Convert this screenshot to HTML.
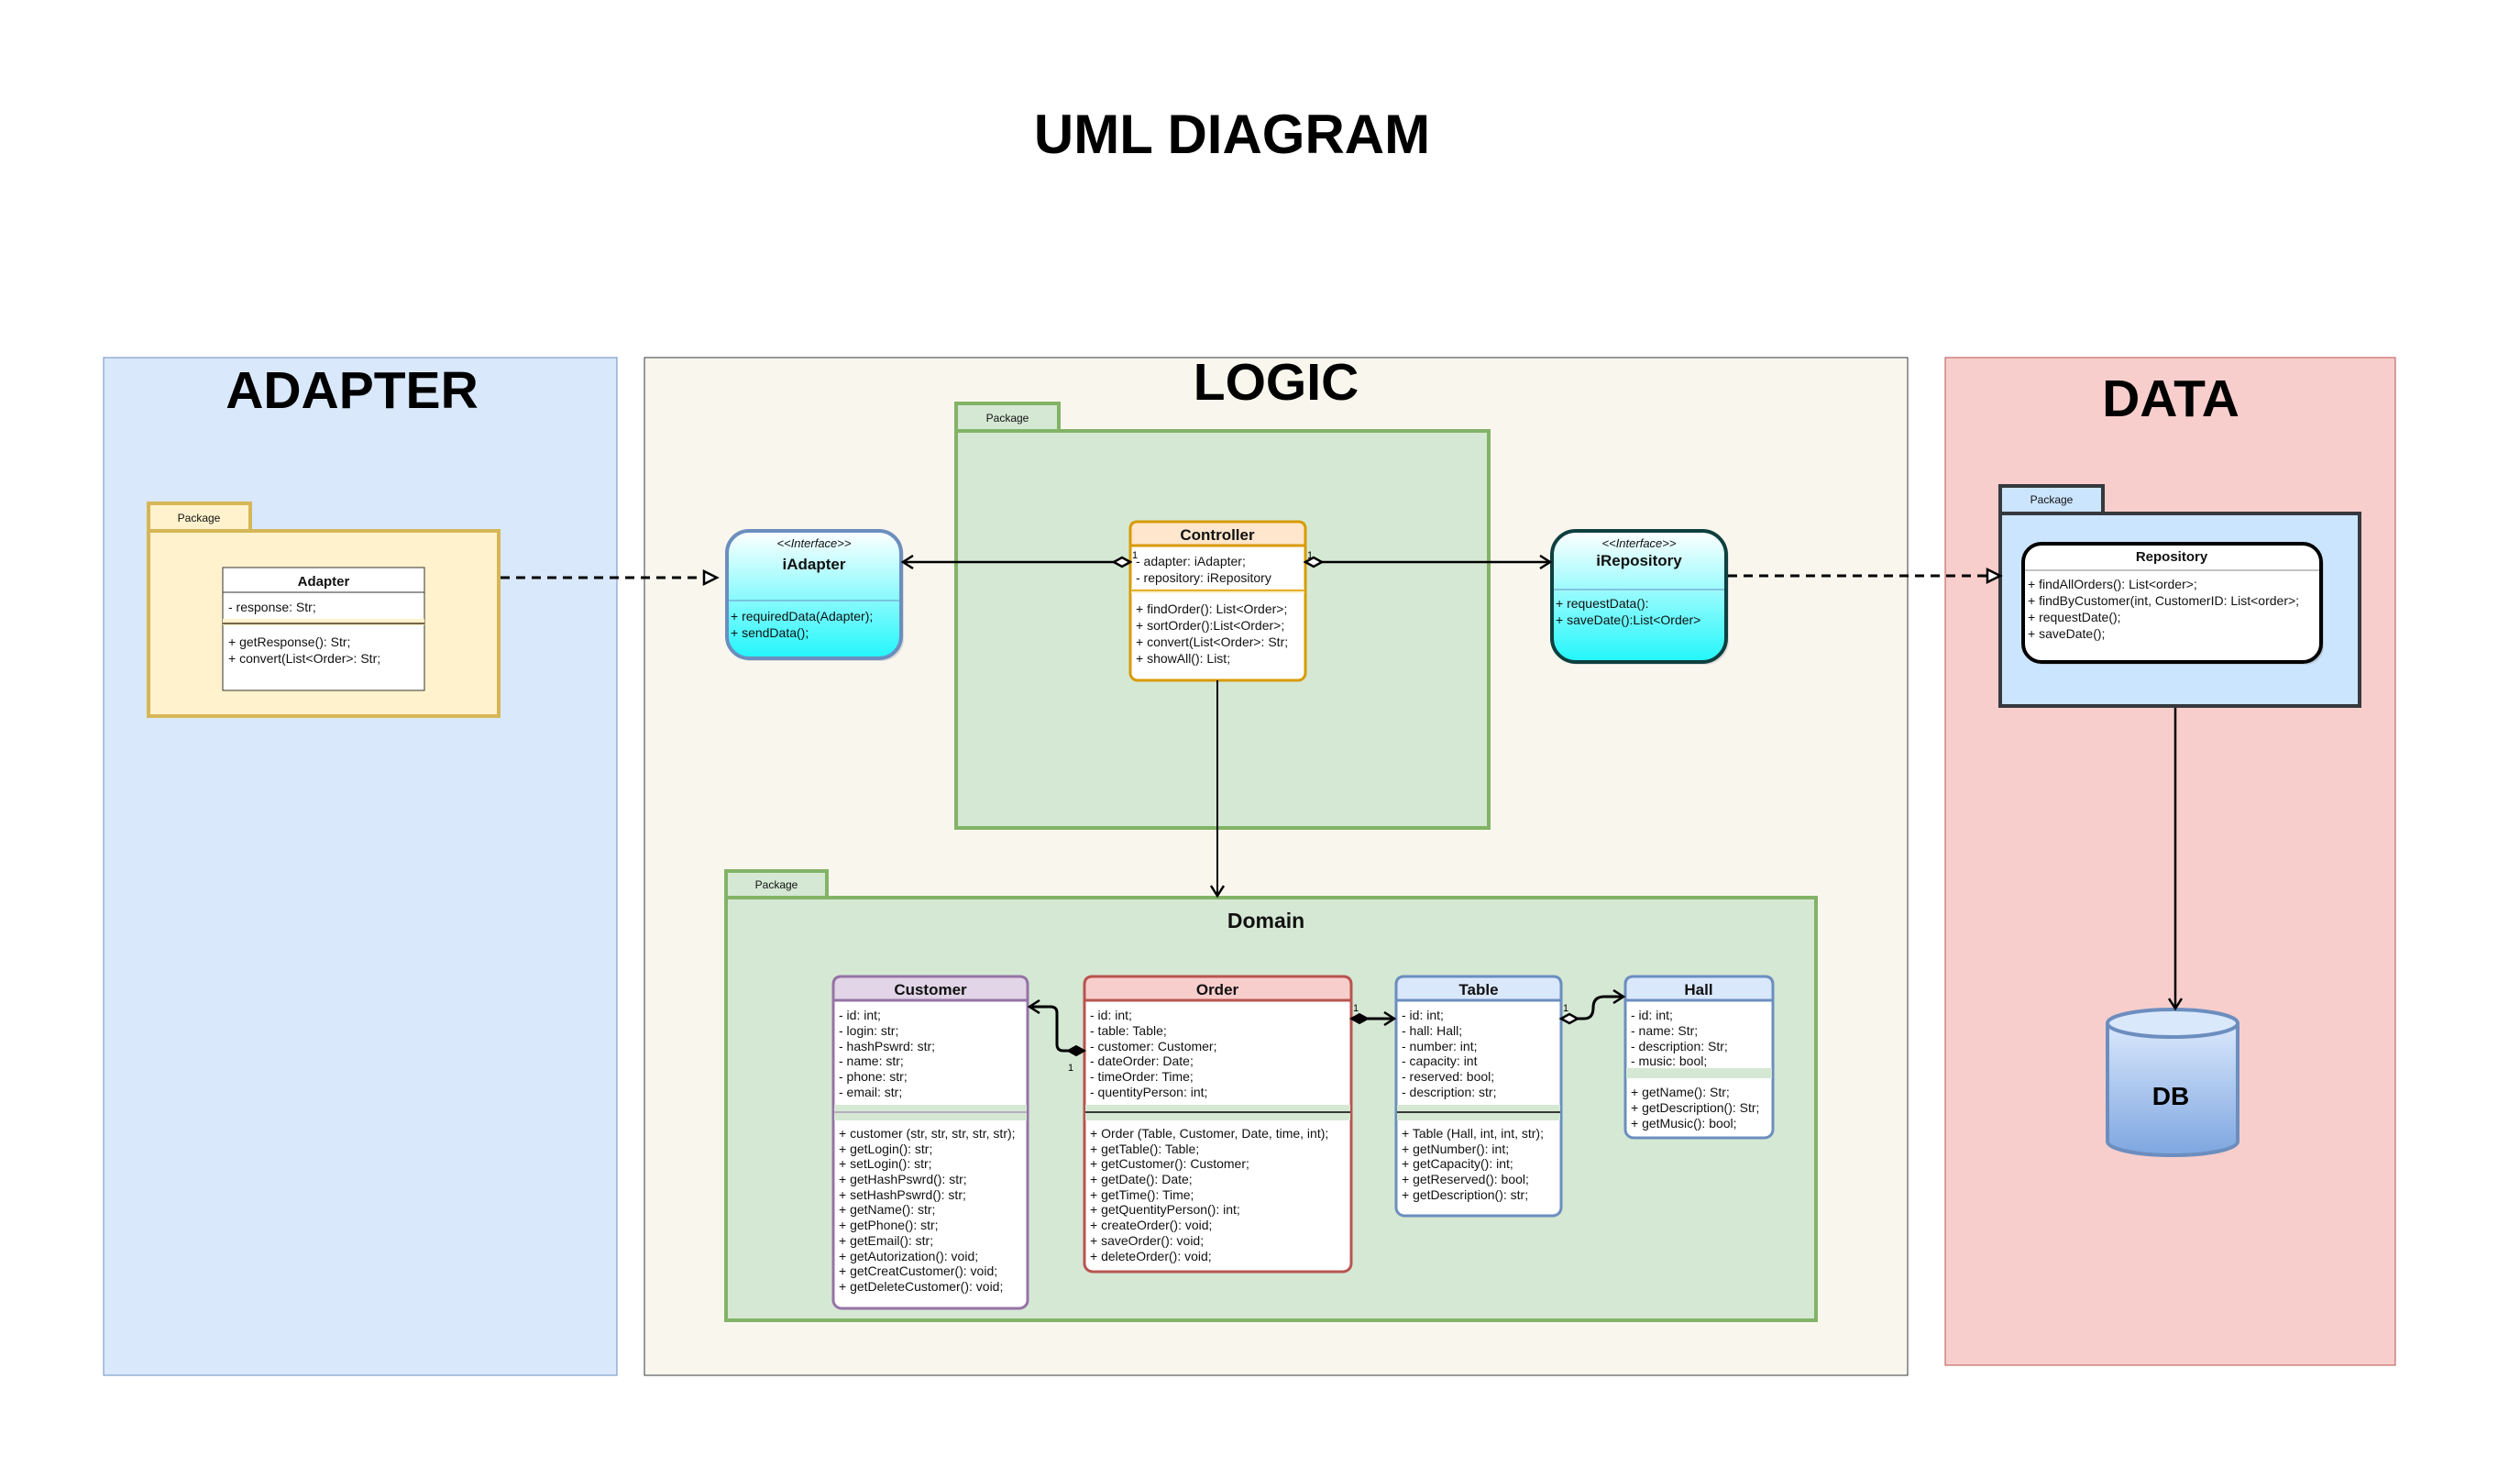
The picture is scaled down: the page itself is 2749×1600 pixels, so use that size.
<!DOCTYPE html>
<html><head><meta charset="utf-8"><style>
html,body{margin:0;padding:0;background:#fff;}
svg{display:block;font-family:"Liberation Sans",Arial,sans-serif;}
.t{font-size:14px;fill:#111;}
.h{font-size:17px;font-weight:bold;fill:#111;text-anchor:middle;}
.pk{font-size:12px;fill:#111;text-anchor:middle;}
</style></head><body>
<svg width="2749" height="1600" viewBox="0 0 2749 1600" xmlns="http://www.w3.org/2000/svg">
<defs>
<linearGradient id="cy" x1="0" y1="0" x2="0" y2="1"><stop offset="0" stop-color="#ffffff"/><stop offset="1" stop-color="#22f6fb"/></linearGradient>
<linearGradient id="db" x1="0" y1="0" x2="0" y2="1"><stop offset="0" stop-color="#dae8fc"/><stop offset="1" stop-color="#7ea6e0"/></linearGradient>
<marker id="open" markerWidth="16" markerHeight="16" refX="13" refY="8" orient="auto" markerUnits="userSpaceOnUse"><path d="M2,1 L13,8 L2,15" fill="none" stroke="#000" stroke-width="2.5"/></marker>
<marker id="tri" markerWidth="20" markerHeight="20" refX="17" refY="10" orient="auto" markerUnits="userSpaceOnUse"><path d="M3,3 L17,10 L3,17 Z" fill="#fff" stroke="#000" stroke-width="2.5"/></marker>
<marker id="dmo" markerWidth="24" markerHeight="14" refX="2" refY="7" orient="auto" markerUnits="userSpaceOnUse"><path d="M2,7 L11,2 L20,7 L11,12 Z" fill="#fff" stroke="#000" stroke-width="2.5"/></marker>
<marker id="dmf" markerWidth="24" markerHeight="14" refX="2" refY="7" orient="auto" markerUnits="userSpaceOnUse"><path d="M2,7 L11,2 L20,7 L11,12 Z" fill="#000" stroke="#000" stroke-width="2"/></marker>
</defs>
<rect width="2749" height="1600" fill="#fff"/>
<text x="1344" y="167" font-size="60" font-weight="bold" text-anchor="middle">UML DIAGRAM</text>

<rect x="113" y="390" width="560" height="1110" fill="#dae8fc" stroke="#6c8ebf" stroke-width="1"/>
<rect x="703" y="390" width="1378" height="1110" fill="#f9f7ed" stroke="#36393d" stroke-width="1"/>
<rect x="2122" y="390" width="491" height="1099" fill="#f8cecc" stroke="#b85450" stroke-width="1"/>
<text x="384" y="445" font-size="57" font-weight="bold" text-anchor="middle">ADAPTER</text>
<text x="1392" y="436" font-size="57" font-weight="bold" text-anchor="middle">LOGIC</text>
<text x="2368" y="454" font-size="57" font-weight="bold" text-anchor="middle">DATA</text>

<rect x="162" y="549" width="111" height="30" fill="#fff2cc" stroke="#d6b656" stroke-width="4"/>
<text class="pk" x="217" y="569">Package</text>
<rect x="162" y="579" width="382" height="202" fill="#fff2cc" stroke="#d6b656" stroke-width="4"/>
<rect x="243" y="619" width="220" height="134" fill="#fff" stroke="#333" stroke-width="1"/>
<line x1="243" y1="646" x2="463" y2="646" stroke="#333"/>
<rect x="243" y="675" width="220" height="7" fill="#fff2cc"/>
<line x1="243" y1="680" x2="463" y2="680" stroke="#776644" stroke-width="2"/>
<text class="h" x="353" y="639" style="font-size:15px">Adapter</text>
<text class="t" x="249" y="667">- response: Str;</text>
<text class="t" x="249" y="705">+ getResponse(): Str;</text>
<text class="t" x="249" y="723">+ convert(List&lt;Order&gt;: Str;</text>

<rect x="796" y="582" width="190" height="139" rx="24" fill="#aab" opacity="0.35"/>
<rect x="793" y="579" width="190" height="139" rx="24" fill="url(#cy)" stroke="#6c8ebf" stroke-width="4"/>
<line x1="795" y1="655" x2="981" y2="655" stroke="#6c8ebf" stroke-width="1"/>
<text class="t" x="888" y="597" text-anchor="middle" font-style="italic" style="font-size:13px">&lt;&lt;Interface&gt;&gt;</text>
<text class="h" x="888" y="621">iAdapter</text>
<text class="t" x="797" y="677">+ requiredData(Adapter);</text>
<text class="t" x="797" y="695">+ sendData();</text>

<rect x="1043" y="440" width="112" height="30" fill="#d5e8d4" stroke="#82b366" stroke-width="4"/>
<text class="pk" x="1099" y="460">Package</text>
<rect x="1043" y="470" width="581" height="433" fill="#d5e8d4" stroke="#82b366" stroke-width="4"/>

<rect x="1233" y="569" width="191" height="173" rx="8" fill="#fff" stroke="#d79b00" stroke-width="3"/>
<path d="M1233,595 L1233,577 Q1233,569 1241,569 L1416,569 Q1424,569 1424,577 L1424,595 Z" fill="#ffe6cc" stroke="#d79b00" stroke-width="3"/>
<rect x="1234" y="642" width="189" height="5" fill="#fff2cc"/>
<line x1="1234" y1="644" x2="1423" y2="644" stroke="#d79b00" stroke-width="1.5"/>
<text class="h" x="1328" y="589">Controller</text>
<text class="t" x="1239" y="617">- adapter: iAdapter;</text>
<text class="t" x="1239" y="635">- repository: iRepository</text>
<text class="t" x="1239" y="669">+ findOrder(): List&lt;Order&gt;;</text>
<text class="t" x="1239" y="687">+ sortOrder():List&lt;Order&gt;;</text>
<text class="t" x="1239" y="705">+ convert(List&lt;Order&gt;: Str;</text>
<text class="t" x="1239" y="723">+ showAll(): List;</text>
<text x="1235" y="609" font-size="11">1</text>
<text x="1426" y="609" font-size="11">1</text>

<rect x="1696" y="582" width="190" height="143" rx="26" fill="#aab" opacity="0.35"/>
<rect x="1693" y="579" width="190" height="143" rx="26" fill="url(#cy)" stroke="#0f3f3f" stroke-width="4"/>
<line x1="1695" y1="643" x2="1881" y2="643" stroke="#6c8ebf" stroke-width="1"/>
<text class="t" x="1788" y="597" text-anchor="middle" font-style="italic" style="font-size:13px">&lt;&lt;Interface&gt;&gt;</text>
<text class="h" x="1788" y="617">iRepository</text>
<text class="t" x="1697" y="663">+ requestData():</text>
<text class="t" x="1697" y="681">+ saveDate():List&lt;Order&gt;</text>

<rect x="792" y="950" width="110" height="29" fill="#d5e8d4" stroke="#82b366" stroke-width="4"/>
<text class="pk" x="847" y="969">Package</text>
<rect x="792" y="979" width="1189" height="461" fill="#d5e8d4" stroke="#82b366" stroke-width="4"/>
<text class="h" x="1381" y="1012" style="font-size:23px">Domain</text>

<rect x="909" y="1065" width="212" height="362" rx="9" fill="#fff" stroke="#9673a6" stroke-width="3"/>
<path d="M909,1091 L909,1074 Q909,1065 918,1065 L1112,1065 Q1121,1065 1121,1074 L1121,1091 Z" fill="#e1d5e7" stroke="#9673a6" stroke-width="3"/>
<rect x="910" y="1205" width="210" height="17" fill="#d5e8d4"/>
<line x1="910" y1="1213" x2="1120" y2="1213" stroke="#9673a6" stroke-width="1"/>
<text class="h" x="1015" y="1085">Customer</text>
<g class="t">
<text x="915" y="1112">- id: int;</text><text x="915" y="1129">- login: str;</text><text x="915" y="1146">- hashPswrd: str;</text><text x="915" y="1162">- name: str;</text><text x="915" y="1179">- phone: str;</text><text x="915" y="1196">- email: str;</text>
<text x="915" y="1241">+ customer (str, str, str, str, str);</text><text x="915" y="1258">+ getLogin(): str;</text><text x="915" y="1274">+ setLogin(): str;</text><text x="915" y="1291">+ getHashPswrd(): str;</text><text x="915" y="1308">+ setHashPswrd(): str;</text><text x="915" y="1324">+ getName(): str;</text><text x="915" y="1341">+ getPhone(): str;</text><text x="915" y="1358">+ getEmail(): str;</text><text x="915" y="1375">+ getAutorization(): void;</text><text x="915" y="1391">+ getCreatCustomer(): void;</text><text x="915" y="1408">+ getDeleteCustomer(): void;</text>
</g>

<rect x="1183" y="1065" width="291" height="322" rx="9" fill="#fff" stroke="#b85450" stroke-width="3"/>
<path d="M1183,1091 L1183,1074 Q1183,1065 1192,1065 L1465,1065 Q1474,1065 1474,1074 L1474,1091 Z" fill="#f8cecc" stroke="#b85450" stroke-width="3"/>
<rect x="1184" y="1205" width="289" height="17" fill="#d5e8d4"/>
<line x1="1184" y1="1213" x2="1473" y2="1213" stroke="#000" stroke-width="1.5"/>
<text class="h" x="1328" y="1085">Order</text>
<g class="t">
<text x="1189" y="1112">- id: int;</text><text x="1189" y="1129">- table: Table;</text><text x="1189" y="1146">- customer: Customer;</text><text x="1189" y="1162">- dateOrder: Date;</text><text x="1189" y="1179">- timeOrder: Time;</text><text x="1189" y="1196">- quentityPerson: int;</text>
<text x="1189" y="1241">+ Order (Table, Customer, Date, time, int);</text><text x="1189" y="1258">+ getTable(): Table;</text><text x="1189" y="1274">+ getCustomer(): Customer;</text><text x="1189" y="1291">+ getDate(): Date;</text><text x="1189" y="1308">+ getTime(): Time;</text><text x="1189" y="1324">+ getQuentityPerson(): int;</text><text x="1189" y="1341">+ createOrder(): void;</text><text x="1189" y="1358">+ saveOrder(): void;</text><text x="1189" y="1375">+ deleteOrder(): void;</text>
</g>

<rect x="1523" y="1065" width="180" height="261" rx="9" fill="#fff" stroke="#6c8ebf" stroke-width="3"/>
<path d="M1523,1091 L1523,1074 Q1523,1065 1532,1065 L1694,1065 Q1703,1065 1703,1074 L1703,1091 Z" fill="#dae8fc" stroke="#6c8ebf" stroke-width="3"/>
<rect x="1524" y="1205" width="178" height="17" fill="#d5e8d4"/>
<line x1="1524" y1="1213" x2="1702" y2="1213" stroke="#000" stroke-width="1.5"/>
<text class="h" x="1613" y="1085">Table</text>
<g class="t">
<text x="1529" y="1112">- id: int;</text><text x="1529" y="1129">- hall: Hall;</text><text x="1529" y="1146">- number: int;</text><text x="1529" y="1162">- capacity: int</text><text x="1529" y="1179">- reserved: bool;</text><text x="1529" y="1196">- description: str;</text>
<text x="1529" y="1241">+ Table (Hall, int, int, str);</text><text x="1529" y="1258">+ getNumber(): int;</text><text x="1529" y="1274">+ getCapacity(): int;</text><text x="1529" y="1291">+ getReserved(): bool;</text><text x="1529" y="1308">+ getDescription(): str;</text>
</g>

<rect x="1773" y="1065" width="161" height="176" rx="9" fill="#fff" stroke="#6c8ebf" stroke-width="3"/>
<path d="M1773,1091 L1773,1074 Q1773,1065 1782,1065 L1925,1065 Q1934,1065 1934,1074 L1934,1091 Z" fill="#dae8fc" stroke="#6c8ebf" stroke-width="3"/>
<rect x="1774" y="1165" width="159" height="11" fill="#d5e8d4"/>
<text class="h" x="1853" y="1085">Hall</text>
<g class="t">
<text x="1779" y="1112">- id: int;</text><text x="1779" y="1129">- name: Str;</text><text x="1779" y="1146">- description: Str;</text><text x="1779" y="1162">- music: bool;</text>
<text x="1779" y="1196">+ getName(): Str;</text><text x="1779" y="1213">+ getDescription(): Str;</text><text x="1779" y="1230">+ getMusic(): bool;</text>
</g>

<rect x="2182" y="530" width="112" height="30" fill="#cce5ff" stroke="#36393d" stroke-width="4"/>
<text class="pk" x="2238" y="549">Package</text>
<rect x="2182" y="560" width="392" height="210" fill="#cce5ff" stroke="#36393d" stroke-width="4"/>
<rect x="2210" y="596" width="325" height="129" rx="20" fill="#999" opacity="0.35"/>
<rect x="2207" y="593" width="325" height="129" rx="20" fill="#fff" stroke="#000" stroke-width="4"/>
<line x1="2209" y1="622" x2="2530" y2="622" stroke="#888" stroke-width="1"/>
<text class="h" x="2369" y="612" style="font-size:15px">Repository</text>
<g class="t">
<text x="2212" y="642">+ findAllOrders(): List&lt;order&gt;;</text><text x="2212" y="660">+ findByCustomer(int, CustomerID: List&lt;order&gt;;</text><text x="2212" y="678">+ requestDate();</text><text x="2212" y="696">+ saveDate();</text>
</g>

<path d="M2299,1115 L2299,1245 A71,15 0 0 0 2441,1245 L2441,1115" fill="url(#db)" stroke="#6c8ebf" stroke-width="4"/>
<ellipse cx="2370" cy="1116" rx="71" ry="15" fill="#dae8fc" stroke="#6c8ebf" stroke-width="4"/>
<text x="2368" y="1205" font-size="28" font-weight="bold" text-anchor="middle">DB</text>

<line x1="546" y1="630" x2="782" y2="630" stroke="#000" stroke-width="3" stroke-dasharray="10,7" marker-end="url(#tri)"/>
<line x1="1885" y1="628" x2="2182" y2="628" stroke="#000" stroke-width="3" stroke-dasharray="10,7" marker-end="url(#tri)"/>
<line x1="1233" y1="613" x2="985" y2="613" stroke="#000" stroke-width="2.5" marker-start="url(#dmo)" marker-end="url(#open)"/>
<line x1="1424" y1="613" x2="1691" y2="613" stroke="#000" stroke-width="2.5" marker-start="url(#dmo)" marker-end="url(#open)"/>
<line x1="1328" y1="742" x2="1328" y2="977" stroke="#000" stroke-width="2" marker-end="url(#open)"/>
<line x1="2373" y1="772" x2="2373" y2="1100" stroke="#000" stroke-width="2.5" marker-end="url(#open)"/>
<path d="M1183,1146 L1160,1146 Q1153,1146 1153,1139 L1153,1105 Q1153,1098 1146,1098 L1123,1098" fill="none" stroke="#000" stroke-width="3" marker-start="url(#dmf)" marker-end="url(#open)"/>
<text x="1165" y="1168" font-size="11">1</text>
<line x1="1474" y1="1111" x2="1521" y2="1111" stroke="#000" stroke-width="3" marker-start="url(#dmf)" marker-end="url(#open)"/>
<text x="1476" y="1103" font-size="11">1</text>
<path d="M1703,1111 L1728,1111 Q1738,1111 1738,1099 Q1738,1087 1750,1087 L1771,1087" fill="none" stroke="#000" stroke-width="3" marker-start="url(#dmo)" marker-end="url(#open)"/>
<text x="1705" y="1103" font-size="11">1</text>
</svg>
</body></html>
